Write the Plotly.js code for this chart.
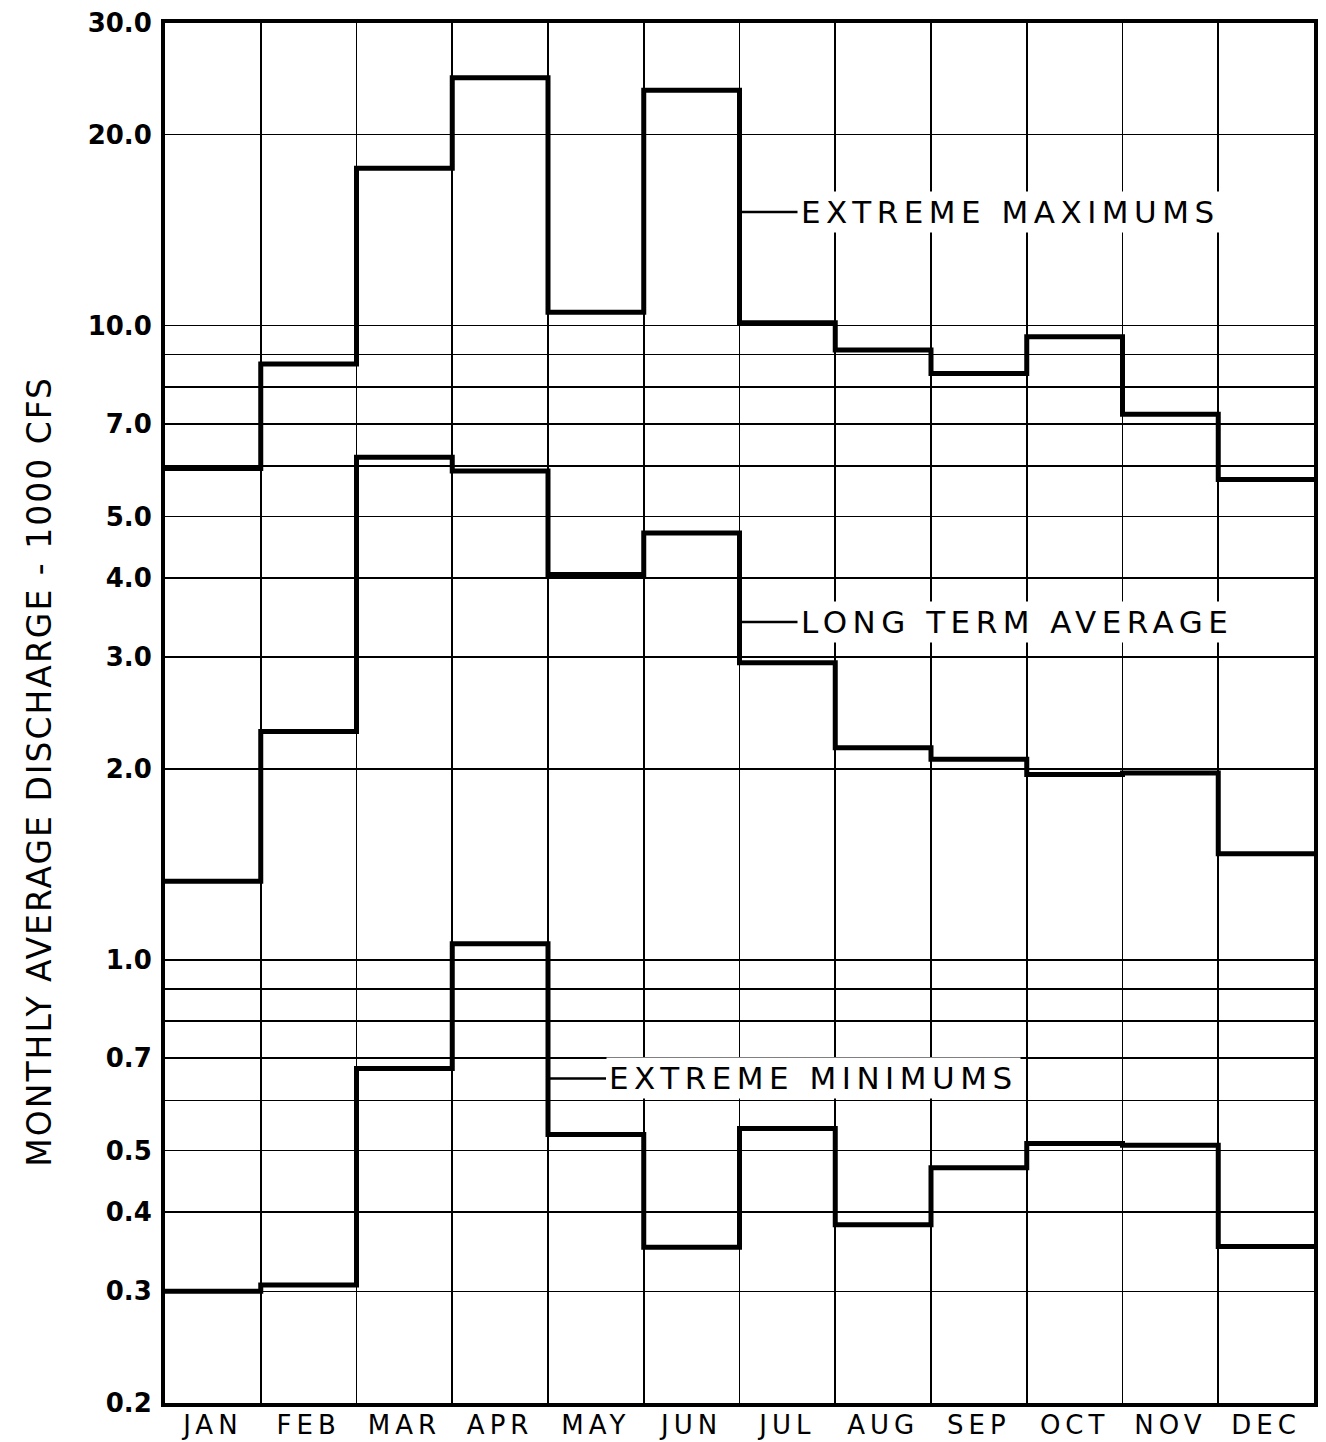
<!DOCTYPE html>
<html>
<head>
<meta charset="utf-8">
<script src="https://cdn.plot.ly/plotly-3.0.1.min.js"></script>
<style>
  html, body { margin: 0; padding: 0; background: #fff; }
  #chart { width: 1326px; height: 1442px; }
  .xtick text { letter-spacing: 5px; }
</style>
</head>
<body>
<div id="chart"></div>
<script>
// ---- data ----
const months = ['JAN','FEB','MAR','APR','MAY','JUN','JUL','AUG','SEP','OCT','NOV','DEC'];
const extremeMax = [5.95, 8.7, 17.7, 24.6, 10.5, 23.5, 10.1, 9.15, 8.4, 9.6, 7.25, 5.72];
const longTermAvg = [1.33, 2.29, 6.2, 5.9, 4.05, 4.71, 2.94, 2.16, 2.07, 1.96, 1.97, 1.47];
const extremeMin = [0.30, 0.307, 0.674, 1.06, 0.53, 0.352, 0.542, 0.382, 0.47, 0.513, 0.51, 0.353];
const yTickVals = [0.2, 0.3, 0.4, 0.5, 0.7, 1, 2, 3, 4, 5, 7, 10, 20, 30];
const yTickText = ['0.2','0.3','0.4','0.5','0.7','1.0','2.0','3.0','4.0','5.0','7.0','10.0','20.0','30.0'];
const yMinorGrid = [0.6, 0.8, 0.9, 6, 8, 9];
const seriesLabels = ['EXTREME MAXIMUMS', 'LONG TERM AVERAGE', 'EXTREME MINIMUMS'];
const labelValues = [15.1, 3.41, 0.65];
const labelMonths = ['JUL', 'JUL', 'MAY'];
const yTitle = 'MONTHLY AVERAGE DISCHARGE - 1000 CFS';

// ---- build step traces ----
const edges = months.map((m, i) => i).concat([months.length]);
function stepTrace(vals, name) {
  return {
    type: 'scatter', mode: 'lines', name: name,
    x: edges,
    y: vals.concat([vals[vals.length - 1]]),
    line: { shape: 'hv', color: '#000', width: 5 },
    hoverinfo: 'skip'
  };
}
const data = [
  stepTrace(extremeMax, seriesLabels[0]),
  stepTrace(longTermAvg, seriesLabels[1]),
  stepTrace(extremeMin, seriesLabels[2])
];

const FONT = 'DejaVu Sans, Liberation Sans, sans-serif';

const annotations = seriesLabels.map((t, i) => ({
  x: months.indexOf(labelMonths[i]),
  y: Math.log10(labelValues[i]),
  xref: 'x', yref: 'y',
  text: '<span style="letter-spacing:5.5px">' + t + '</span>',
  showarrow: true, arrowhead: 0, arrowwidth: 2.5, arrowcolor: '#000',
  ax: 58, ay: 0, xanchor: 'left',
  bgcolor: '#fff', borderpad: 2,
  font: { family: FONT, size: 31, color: '#000' }
}));
annotations.push({
  xref: 'paper', yref: 'paper', x: -0.109, y: 0.458,
  xanchor: 'center', yanchor: 'middle',
  text: '<span style="letter-spacing:2px">' + yTitle + '</span>',
  textangle: -90, showarrow: false,
  font: { family: FONT, size: 33, color: '#000' }
});

const layout = {
  width: 1326, height: 1442,
  margin: { l: 165, r: 12, t: 23, b: 39, pad: 0 },
  paper_bgcolor: '#fff', plot_bgcolor: '#fff',
  showlegend: false,
  font: { family: FONT, color: '#000' },
  xaxis: {
    range: [0, months.length],
    tickmode: 'array',
    tickvals: months.map((m, i) => i + 0.5),
    ticktext: months,
    ticks: '', showgrid: false, zeroline: false,
    showline: true, linewidth: 4, linecolor: '#000', mirror: true,
    tickfont: { family: FONT, size: 26, color: '#000' },
    ticklabelstandoff: -4,
    minor: { tickmode: 'linear', tick0: 0, dtick: 1, showgrid: true, gridcolor: '#000', gridwidth: 1.6, ticks: '' },
    fixedrange: true
  },
  yaxis: {
    type: 'log',
    range: [Math.log10(0.2), Math.log10(30)],
    tickmode: 'array', tickvals: yTickVals, ticktext: yTickText,
    ticks: '', showgrid: true, gridcolor: '#000', gridwidth: 1.6,
    zeroline: false,
    showline: true, linewidth: 4, linecolor: '#000', mirror: true,
    tickfont: { family: FONT, size: 26, color: '#000', weight: 'bold' },
    ticklabelstandoff: 4,
    minor: { tickmode: 'array', tickvals: yMinorGrid, showgrid: true, gridcolor: '#000', gridwidth: 1.6, ticks: '' },
    fixedrange: true
  },
  annotations: annotations
};

Plotly.newPlot('chart', data, layout, { displayModeBar: false, staticPlot: true });
</script>
</body>
</html>
